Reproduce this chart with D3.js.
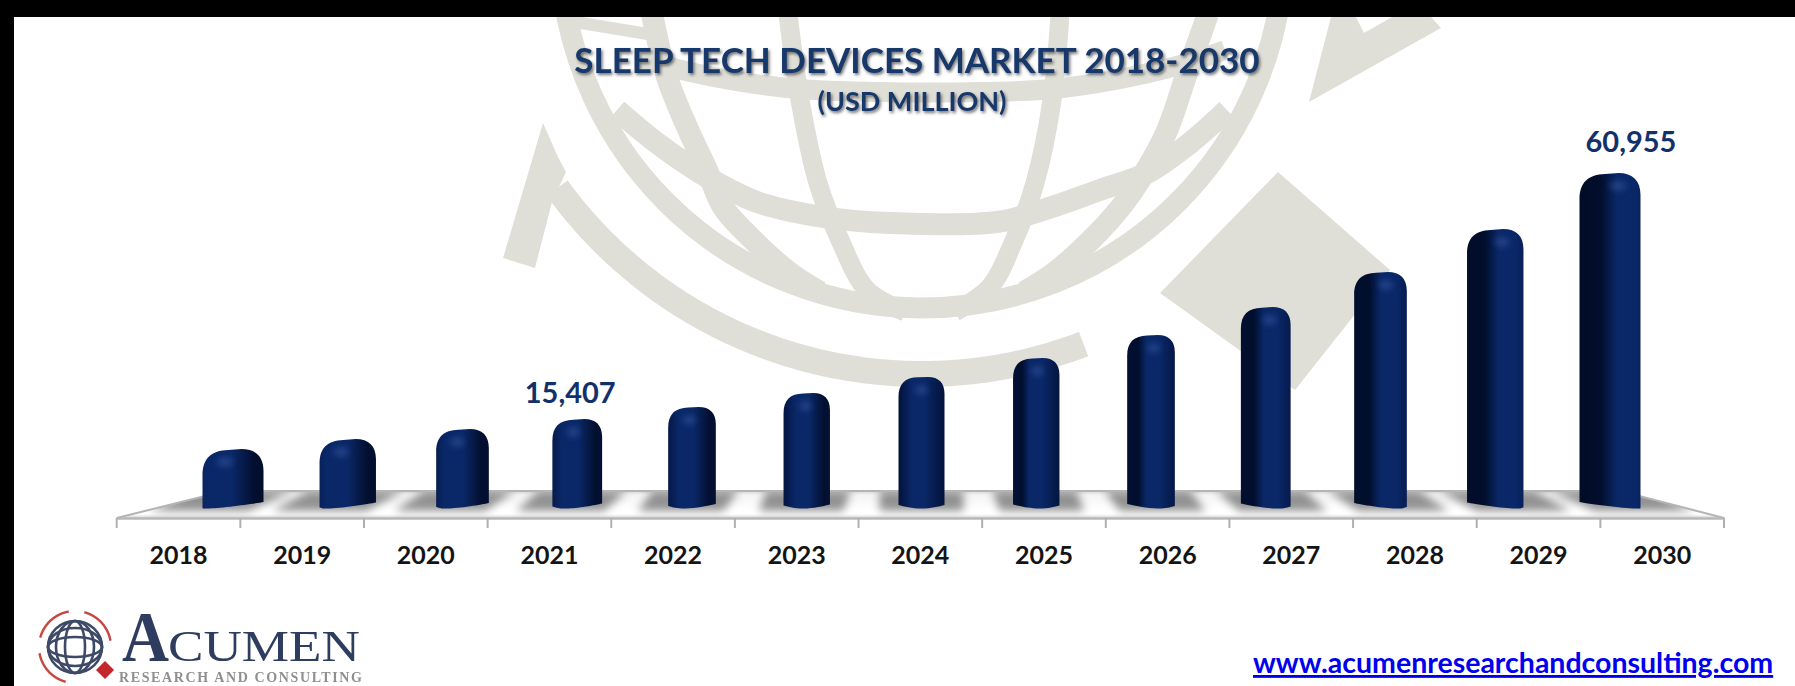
<!DOCTYPE html>
<html>
<head>
<meta charset="utf-8">
<title>Sleep Tech Devices Market 2018-2030</title>
<script src="https://cdn.jsdelivr.net/npm/d3@7/dist/d3.min.js"></script>
<style>
  html, body { margin: 0; padding: 0; background: #fff; overflow: hidden; }
  svg { display: block; }
  text { font-family: Lato, "Open Sans", sans-serif; font-weight: 700; }
</style>
</head>
<body>
<svg id="chart" width="1795" height="686"></svg>
<script>
// Market size by year, USD million
const years = [2018, 2019, 2020, 2021, 2022, 2023, 2024, 2025, 2026, 2027, 2028, 2029, 2030];
const marketSize = [9850, 11700, 13550, 15407, 17630, 20220, 23180, 26700, 30960, 36140, 42620, 50580, 60955];
const labelledYears = [2021, 2030];
const titleText = "SLEEP TECH DEVICES MARKET 2018-2030";
const subtitleText = "(USD MILLION)";
const siteText = "www.acumenresearchandconsulting.com";

const svg = d3.select("#chart");
const defs = svg.append("defs");

const addBlur = (id, dev) => defs.append("filter").attr("id", id)
  .attr("x", "-40%").attr("y", "-80%").attr("width", "180%").attr("height", "260%")
  .append("feGaussianBlur").attr("stdDeviation", dev);
addBlur("soft", 0.55);
addBlur("shade", 4.5);
addBlur("glow", 3);

const titleShadow = defs.append("filter").attr("id", "titleShadow")
  .attr("x", "-5%").attr("y", "-30%").attr("width", "110%").attr("height", "170%");
titleShadow.append("feDropShadow").attr("dx", 1.5).attr("dy", 2).attr("stdDeviation", 1.5)
  .attr("flood-color", "#444").attr("flood-opacity", 0.75);

svg.append("rect").attr("width", 1795).attr("height", 686).attr("fill", "#fff");

// ---- Globe watermark behind the plot ----
const markColor = "#dfdfd8";
const mark = svg.append("g").attr("fill", "none").attr("stroke", markColor).attr("filter", "url(#soft)");
const smooth = d3.line().curve(d3.curveCatmullRom.alpha(0.5));

const polar = (cx, cy, r, deg) => [cx + r * Math.sin(deg * Math.PI / 180), cy + r * Math.cos(deg * Math.PI / 180)];
const arcPath = (cx, cy, r, from, to) => d3.line()(d3.range(from, to, (to - from) / 120).concat(to).map(a => polar(cx, cy, r, a)));

// rim of the globe
mark.append("circle").attr("cx", 922).attr("cy", -54).attr("r", 362).attr("stroke-width", 21);
// sweeping ring with its arrowhead on the left
mark.append("path").attr("d", arcPath(922, -77, 451, -54, 21)).attr("stroke-width", 26);
mark.append("path").attr("stroke", "none").attr("fill", markColor)
  .attr("d", "M543,123 L558,157 L566,172 L552,202 L535,268 L503,258 Z");
// second arrowhead, upper right
mark.append("path").attr("stroke", "none").attr("fill", markColor)
  .attr("d", "M1331,17 L1356,17 L1364,33 L1392,17 L1431,17 L1441,28 L1309,102 Z");
// diamond
mark.append("path").attr("stroke", "none").attr("fill", markColor)
  .attr("d", "M1278,172 L1390,270 L1295,390 L1160,293 Z");

const gridLines = [
  // latitudes
  { w: 22, p: [[617, 110], [657, 143], [707, 177], [757, 202], [823, 217], [890, 223], [997, 222], [1043, 210], [1100, 190], [1147, 173], [1190, 143], [1227, 110]] },
  { w: 20, p: [[640, 58], [690, 72], [787, 88], [880, 92], [980, 92], [1063, 88], [1173, 67], [1225, 50]] },
  { w: 12, p: [[575, 22], [660, 36]] },
  // meridians
  { w: 22, p: [[652, 14], [667, 77], [687, 127], [707, 170], [723, 207], [750, 237], [790, 273], [820, 292]] },
  { w: 22, p: [[1208, 14], [1187, 73], [1166, 133], [1140, 180], [1121, 207], [1094, 237], [1054, 273], [1024, 292]] },
  { w: 19, p: [[788, 14], [800, 100], [818, 183], [840, 240], [867, 290], [905, 312]] },
  { w: 19, p: [[1060, 14], [1052, 100], [1035, 183], [1013, 243], [990, 287], [955, 312]] }
];
mark.selectAll("path.grid").data(gridLines).join("path")
  .attr("class", "grid")
  .attr("d", d => smooth(d.p))
  .attr("stroke-width", d => d.w);

// ---- Scales ----
const frontLeft = 116.7, frontRight = 1724, axisY = 518;
const backLeft = 225, backRight = 1620, backY = 491;

const xAxisScale = d3.scaleBand().domain(years).range([frontLeft, frontRight]);
const xBar = d3.scalePoint().domain(years).range([233, 1610]);
const yScale = d3.scaleLinear().domain([0, d3.max(marketSize)]).range([502.2, 173]);

// position across the plot: -1 at the first bar, +1 at the last
const spread = d3.scaleLinear().domain(d3.extent(years)).range([-1, 1]);
const bars = years.map((year, i) => {
  const t = spread(year);
  return { year, value: marketSize[i], t, cx: xBar(year), w: 46 + 15 * t * t };
});

// ---- Floor ----
const floorFill = defs.append("linearGradient").attr("id", "floorFill")
  .attr("x1", 0).attr("y1", 0).attr("x2", 0).attr("y2", 1);
[[0, "#d6d6d6"], [0.15, "#f4f4f4"], [0.7, "#ffffff"], [0.86, "#ffffff"], [1, "#d4d4d4"]].forEach(([o, c]) =>
  floorFill.append("stop").attr("offset", o).attr("stop-color", c));

const floorOutline = `M${frontLeft},${axisY} L${backLeft},${backY} L${backRight},${backY} L${frontRight},${axisY} Z`;
defs.append("clipPath").attr("id", "floorClip").append("path").attr("d", floorOutline);

svg.append("path").attr("d", floorOutline).attr("fill", "url(#floorFill)");

const shadowLayer = svg.append("g").attr("clip-path", "url(#floorClip)");
shadowLayer.selectAll("path").data(bars).join("path")
  .attr("fill", "#6a6a6a")
  .attr("opacity", 0.72)
  .attr("filter", "url(#shade)")
  .attr("d", d => {
    const half = d.w / 2 + 19;
    const lean = (d.cx - 920) * 0.05;
    return `M${d.cx - half - lean * 0.3},${backY} L${d.cx + half - lean * 0.3},${backY} ` +
      `L${d.cx + half + lean},${backY + 20} L${d.cx - half + lean},${backY + 20} Z`;
  });

svg.append("line").attr("x1", backLeft).attr("x2", backRight).attr("y1", backY).attr("y2", backY)
  .attr("stroke", "#b4b4b4").attr("stroke-width", 2);
svg.append("path").attr("fill", "none").attr("stroke", "#b4b4b4").attr("stroke-width", 2)
  .attr("d", `M${frontLeft},${axisY} L${backLeft},${backY} M${frontRight},${axisY} L${backRight},${backY}`);

// ---- Axis: labels centred in each band, tick marks on the band edges ----
const axisGroup = svg.append("g").attr("transform", `translate(0,${axisY})`)
  .call(d3.axisBottom(xAxisScale).tickSize(0).tickPadding(28));
axisGroup.select(".domain").attr("stroke", "#b8b8b8").attr("stroke-width", 2.5);
axisGroup.selectAll("text")
  .attr("fill", "#141414")
  .style("font-size", "25px")
  .attr("font-family", null);
axisGroup.selectAll("line.edge")
  .data(years.map(y => xAxisScale(y)).concat(frontRight))
  .join("line").attr("class", "edge")
  .attr("x1", d => d).attr("x2", d => d)
  .attr("y1", 0).attr("y2", 10)
  .attr("stroke", "#b0b0b0").attr("stroke-width", 2);

// ---- Bars ----
const barGradient = defs.selectAll("linearGradient.bar").data(bars).join("linearGradient")
  .attr("class", "bar")
  .attr("id", d => `bar${d.year}`)
  .attr("x1", 0).attr("x2", 1).attr("y1", 0).attr("y2", 0);
barGradient.each(function (d) {
  const right = Math.max(0, d.t), left = Math.max(0, -d.t);
  const start = 0.3 + 0.32 * right - 0.2 * left;
  const end = 0.56 + 0.34 * right - 0.08 * left;
  const edgeMix = (a, b, k) => d3.interpolateRgb(a, b)(k);
  const stops = [[0, d.t < 0 ? edgeMix("#03123a", "#0a2460", left) : edgeMix("#03123a", "#010c26", right)]];
  if (d.t > 0) stops.push([start * 0.55, "#010e2c"]);
  stops.push([start, "#0a2868"], [end, "#0a2868"]);
  if (d.t < 0) stops.push([(1 + end) / 2 + 0.1, "#030f30"]);
  stops.push([1, d.t > 0 ? edgeMix("#03123a", "#0a2260", right) : edgeMix("#03123a", "#020d2b", left)]);
  d3.select(this).selectAll("stop").data(stops).join("stop")
    .attr("offset", s => s[0]).attr("stop-color", s => s[1]);
});

function barPath(d) {
  const x0 = d.cx - d.w / 2, x1 = d.cx + d.w / 2;
  const top = yScale(d.value);
  const yL = 505 - 3 * d.t, yR = 505 + 3 * d.t;
  const lowX = d.cx + d.t * d.w * 0.42;
  const lift = 0.6 + 1.2 * Math.abs(d.t);
  const rl = d.w * 0.42, rr = d.w * 0.36;
  return `M${x0},${yL} L${x0},${top + rl * 1.05} ` +
    `C${x0},${top + rl * 0.35} ${x0 + rl * 0.35},${top + lift} ${x0 + rl},${top + lift * 0.6} ` +
    `L${x1 - rr},${top} C${x1 - rr * 0.35},${top} ${x1},${top + rr * 0.35} ${x1},${top + rr} ` +
    `L${x1},${yR} C${x1 - d.w * 0.12},${yR + 1.5} ${lowX + d.w * 0.2},${508.5} ${lowX},${508.5} ` +
    `C${lowX - d.w * 0.2},${508.5} ${x0 + d.w * 0.12},${yL + 1.5} ${x0},${yL} Z`;
}

const barGroup = svg.append("g");
barGroup.selectAll("path.barBody").data(bars).join("path")
  .attr("class", "barBody")
  .attr("d", barPath)
  .attr("fill", d => `url(#bar${d.year})`);
barGroup.selectAll("ellipse.cap").data(bars).join("ellipse")
  .attr("class", "cap")
  .attr("cx", d => d.cx + d.t * 8)
  .attr("cy", d => yScale(d.value) + 13)
  .attr("rx", d => d.w * 0.13)
  .attr("ry", 4.5)
  .attr("fill", "#3557a0")
  .attr("opacity", 0.6)
  .attr("filter", "url(#glow)");

// ---- Value labels on the first and last called-out years ----
const labelNudge = { 2021: [-7, -16], 2030: [21, -21] };
svg.selectAll("text.value").data(bars.filter(d => labelledYears.includes(d.year))).join("text")
  .attr("class", "value")
  .attr("x", d => d.cx + labelNudge[d.year][0])
  .attr("y", d => yScale(d.value) + labelNudge[d.year][1])
  .attr("text-anchor", "middle")
  .attr("fill", "#12306a")
  .style("font-size", "29px")
  .text(d => d3.format(",")(d.value));

// ---- Titles ----
svg.append("text").attr("x", 917).attr("y", 73).attr("text-anchor", "middle")
  .attr("fill", "#17386a").attr("filter", "url(#titleShadow)")
  .style("font-size", "35px").text(titleText);
svg.append("text").attr("x", 912).attr("y", 111).attr("text-anchor", "middle")
  .attr("fill", "#17386a").attr("filter", "url(#titleShadow)")
  .style("font-size", "27px").text(subtitleText);

// ---- Site address, kept inside the right edge ----
svg.append("text").attr("x", 1253).attr("y", 673)
  .attr("fill", "#0000ee").attr("text-decoration", "underline")
  .style("font-size", "28.5px").text(siteText);

// ---- Company logo ----
const logo = svg.append("g").attr("filter", "url(#soft)");
const globe = logo.append("g").attr("fill", "none").attr("stroke", "#3d4a66").attr("stroke-width", 2.6);
globe.append("ellipse").attr("cx", 75).attr("cy", 647).attr("rx", 27).attr("ry", 26);
[10, 19].forEach(rx => globe.append("ellipse").attr("cx", 75).attr("cy", 647).attr("rx", rx).attr("ry", 26));
[10, 19].forEach(ry => globe.append("ellipse").attr("cx", 75).attr("cy", 647).attr("rx", 27).attr("ry", ry));

const swoosh = logo.append("g").attr("fill", "none").attr("stroke", "#c9443f").attr("stroke-width", 2.4);
[[100, 165], [190, 255], [280, 345]].forEach(([a, b]) =>
  swoosh.append("path").attr("d", arcPath(75, 647, 36, a, b)));
logo.append("path").attr("fill", "#c4262b").attr("d", "M105,661 L114,670 L105,679 L96,670 Z");

const logoSerif = "'Liberation Serif', serif";
logo.append("text").attr("x", 122).attr("y", 661).attr("fill", "#2f3e5e")
  .style("font-family", logoSerif).style("font-weight", 700).style("font-size", "72px")
  .attr("textLength", 47).attr("lengthAdjust", "spacingAndGlyphs").text("A");
logo.append("text").attr("x", 168).attr("y", 661).attr("fill", "#2f3e5e")
  .style("font-family", logoSerif).style("font-weight", 400).style("font-size", "44px")
  .attr("textLength", 192).attr("lengthAdjust", "spacingAndGlyphs").text("CUMEN");
logo.append("text").attr("x", 119).attr("y", 682).attr("fill", "#8f8f8f")
  .style("font-family", logoSerif).style("font-weight", 700).style("font-size", "14px")
  .attr("textLength", 243).text("RESEARCH AND CONSULTING");

// ---- Dark frame along the top and left edges ----
svg.append("rect").attr("width", 1795).attr("height", 17).attr("fill", "#000");
svg.append("rect").attr("width", 14).attr("height", 686).attr("fill", "#000");
</script>
</body>
</html>
